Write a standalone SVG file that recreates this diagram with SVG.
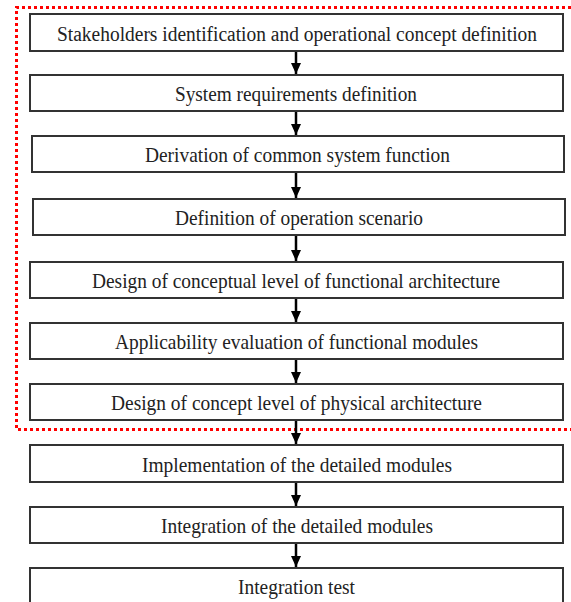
<svg xmlns="http://www.w3.org/2000/svg" width="571" height="602" viewBox="0 0 571 602">
<defs>
<marker id="ah" markerUnits="userSpaceOnUse" markerWidth="11" markerHeight="10" refX="11" refY="5" orient="auto">
<path d="M0,0 L11,5 L0,10 z" fill="#000"/>
</marker>
<style>
.box{fill:#fff;stroke:#333;stroke-width:2}
.lbl{font-family:"Liberation Serif","Times New Roman",serif;font-size:21px;fill:#222;text-anchor:middle}
.arr{stroke:#000;stroke-width:2.5;fill:none;marker-end:url(#ah)}
.frame{fill:none;stroke:#f00;stroke-width:3;stroke-dasharray:3 3}
</style>
</defs>
<rect width="571" height="602" fill="#fff"/>
<g id="frame"><path class="frame" d="M571,7.5 L16.5,7.5 L16.5,429.5 L571,429.5"/></g>
<g id="connectors">
<line class="arr" x1="296" y1="51" x2="296" y2="74"/>
<line class="arr" x1="296" y1="111" x2="296" y2="135"/>
<line class="arr" x1="296" y1="172" x2="296" y2="198"/>
<line class="arr" x1="296" y1="235" x2="296" y2="261"/>
<line class="arr" x1="296" y1="298" x2="296" y2="322"/>
<line class="arr" x1="296" y1="359" x2="296" y2="383"/>
<line class="arr" x1="296" y1="420" x2="296" y2="444"/>
<line class="arr" x1="296" y1="482" x2="296" y2="506"/>
<line class="arr" x1="296" y1="543" x2="296" y2="567"/>
</g>
<g id="n1"><rect class="box" x="30" y="14" width="533" height="37"/><text class="lbl" x="297" y="40.5" style="font-size:20px" textLength="480" lengthAdjust="spacingAndGlyphs">Stakeholders identification and operational concept definition</text></g>
<g id="n2"><rect class="box" x="30" y="75" width="533" height="36"/><text class="lbl" x="296" y="101" textLength="242" lengthAdjust="spacingAndGlyphs">System requirements definition</text></g>
<g id="n3"><rect class="box" x="32" y="136" width="532" height="36"/><text class="lbl" x="297.5" y="162" textLength="305" lengthAdjust="spacingAndGlyphs">Derivation of common system function</text></g>
<g id="n4"><rect class="box" x="33" y="199" width="532" height="36"/><text class="lbl" x="299" y="225" textLength="248" lengthAdjust="spacingAndGlyphs">Definition of operation scenario</text></g>
<g id="n5"><rect class="box" x="30" y="262" width="533" height="36"/><text class="lbl" x="296" y="288" textLength="408" lengthAdjust="spacingAndGlyphs">Design of conceptual level of functional architecture</text></g>
<g id="n6"><rect class="box" x="30" y="323" width="533" height="36"/><text class="lbl" x="296.5" y="349" textLength="363" lengthAdjust="spacingAndGlyphs">Applicability evaluation of functional modules</text></g>
<g id="n7"><rect class="box" x="30" y="384" width="533" height="36"/><text class="lbl" x="296.5" y="410" textLength="371" lengthAdjust="spacingAndGlyphs">Design of concept level of physical architecture</text></g>
<g id="n8"><rect class="box" x="30" y="445" width="533" height="37"/><text class="lbl" x="297" y="471.5" textLength="310" lengthAdjust="spacingAndGlyphs">Implementation of the detailed modules</text></g>
<g id="n9"><rect class="box" x="30" y="507" width="533" height="36"/><text class="lbl" x="297" y="533" textLength="272" lengthAdjust="spacingAndGlyphs">Integration of the detailed modules</text></g>
<g id="n10"><rect class="box" x="30" y="568" width="533" height="40"/><text class="lbl" x="296.5" y="594" textLength="117" lengthAdjust="spacingAndGlyphs">Integration test</text></g>
</svg>
